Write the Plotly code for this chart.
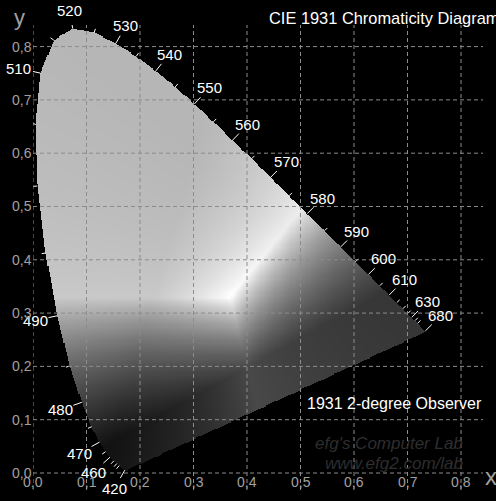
import numpy as np
import plotly.graph_objects as go

# ---------------- data ----------------
wavelengths = [380, 385, 390, 395, 400, 405, 410, 415, 420, 425, 430, 435, 440, 445,
               450, 455, 460, 465, 470, 475, 480, 485, 490, 495, 500, 505, 510, 515,
               520, 525, 530, 535, 540, 545, 550, 555, 560, 565, 570, 575, 580, 585,
               590, 595, 600, 605, 610, 615, 620, 625, 630, 635, 640, 645, 650, 655,
               660, 665, 670, 675, 680, 685, 690, 695, 700]
locus_x = [0.1741, 0.1740, 0.1738, 0.1736, 0.1733, 0.1730, 0.1726, 0.1721, 0.1714, 0.1703,
           0.1689, 0.1669, 0.1644, 0.1611, 0.1566, 0.1510, 0.1440, 0.1355, 0.1241, 0.1096,
           0.0913, 0.0687, 0.0454, 0.0235, 0.0082, 0.0039, 0.0139, 0.0389, 0.0743, 0.1142,
           0.1547, 0.1929, 0.2296, 0.2658, 0.3016, 0.3373, 0.3731, 0.4087, 0.4441, 0.4788,
           0.5125, 0.5448, 0.5752, 0.6029, 0.6270, 0.6482, 0.6658, 0.6801, 0.6915, 0.7006,
           0.7079, 0.7140, 0.7190, 0.7230, 0.7260, 0.7283, 0.7300, 0.7311, 0.7320, 0.7327,
           0.7334, 0.7340, 0.7344, 0.7346, 0.7347]
locus_y = [0.0050, 0.0050, 0.0049, 0.0049, 0.0048, 0.0048, 0.0048, 0.0048, 0.0051, 0.0058,
           0.0069, 0.0086, 0.0109, 0.0138, 0.0177, 0.0227, 0.0297, 0.0399, 0.0578, 0.0868,
           0.1327, 0.2007, 0.2950, 0.4127, 0.5384, 0.6548, 0.7502, 0.8120, 0.8338, 0.8262,
           0.8059, 0.7816, 0.7543, 0.7243, 0.6923, 0.6589, 0.6245, 0.5896, 0.5547, 0.5202,
           0.4866, 0.4544, 0.4242, 0.3965, 0.3725, 0.3514, 0.3340, 0.3197, 0.3083, 0.2993,
           0.2920, 0.2859, 0.2809, 0.2770, 0.2740, 0.2717, 0.2700, 0.2689, 0.2680, 0.2673,
           0.2666, 0.2660, 0.2656, 0.2654, 0.2653]
labeled_nm = [420, 460, 470, 480, 490, 510, 520, 530, 540, 550, 560, 570, 580, 590,
              600, 610, 630, 680]
minor_nm = list(range(445, 641, 5))
grid_vals = [0.0, 0.1, 0.2, 0.3, 0.4, 0.5, 0.6, 0.7, 0.8]
grid_labels = ["0,0", "0,1", "0,2", "0,3", "0,4", "0,5", "0,6", "0,7", "0,8"]

title_text = "CIE 1931 Chromaticity Diagram"
observer_text = "1931 2-degree Observer"
watermark_lines = ["efg's Computer Lab", "www.efg2.com/lab"]

# shading model: RGB primaries, neutral point, luminance weights
prim_x = [0.64, 0.30, 0.15]
prim_y = [0.33, 0.60, 0.06]
white_xy = (0.368, 0.330)
lum_w = [0.2126, 0.7152, 0.0722]

X_RANGE = [0.0, 0.8411]
Y_RANGE = [-0.0319, 0.8405]

NARROW = "Liberation Sans Narrow, Arial Narrow, Liberation Sans, Arial, sans-serif"
REG = "Liberation Sans, Arial, sans-serif"

lx = np.array(locus_x)
ly = np.array(locus_y)

# ---------------- shaded gamut (heatmap) ----------------
xs = np.arange(0.0, 0.742, 0.002)
ys = np.arange(0.0, 0.842, 0.002)
GX, GY = np.meshgrid(xs, ys)


def inside(px, py, vx, vy):
    c = np.zeros(px.shape, bool)
    n = len(vx)
    j = n - 1
    for i in range(n):
        dy = vy[j] - vy[i]
        if dy == 0:
            j = i
            continue
        cond = ((vy[i] > py) != (vy[j] > py)) & (px < (vx[j] - vx[i]) * (py - vy[i]) / dy + vx[i])
        c ^= cond
        j = i
    return c


mask = inside(GX, GY, lx, ly)

P = np.array([[prim_x[k] for k in range(3)],
              [prim_y[k] for k in range(3)],
              [1 - prim_x[k] - prim_y[k] for k in range(3)]])
P = P / P[1:2, :]
W = np.array([white_xy[0] / white_xy[1], 1.0, (1 - white_xy[0] - white_xy[1]) / white_xy[1]])
S = np.linalg.solve(P, W)
Minv = np.linalg.inv(P * S)

yy = np.where(GY > 1e-4, GY, 1e-4)
XYZ = np.stack([GX / yy, np.ones_like(GX), (1 - GX - GY) / yy], axis=0)
RGB = np.einsum('ij,jkl->ikl', Minv, XYZ)
RGB = np.clip(RGB, 0, None)
mx = RGB.max(axis=0)
mx = np.where(mx > 0, mx, 1)
RGB = RGB / mx
gray = lum_w[0] * RGB[0] + lum_w[1] * RGB[1] + lum_w[2] * RGB[2]
Z = np.where(mask, np.round(gray, 3), np.nan)

fig = go.Figure()
fig.add_trace(go.Heatmap(x=xs, y=ys, z=Z, zmin=0, zmax=1,
                         colorscale=[[0, "#000000"], [1, "#ffffff"]],
                         showscale=False, hoverinfo="skip"))

# ---------------- wavelength ticks ----------------
idx = {w: i for i, w in enumerate(wavelengths)}


def normal(w):
    i = idx[w]
    i0, i1 = max(i - 1, 0), min(i + 1, len(wavelengths) - 1)
    dx, dy = lx[i1] - lx[i0], ly[i1] - ly[i0]
    n = np.hypot(dx, dy)
    return -dy / n, dx / n


PX_PER_UNIT = 534.0
tx, ty = [], []
for w in sorted(set(minor_nm) | set(labeled_nm)):
    nx, ny = normal(w)
    L = (9.0 if w in labeled_nm else 4.0) / PX_PER_UNIT
    x0, y0 = lx[idx[w]], ly[idx[w]]
    tx += [x0, x0 + nx * L, None]
    ty += [y0, y0 + ny * L, None]
fig.add_trace(go.Scatter(x=tx, y=ty, mode="lines", line=dict(color="white", width=1),
                         hoverinfo="skip", showlegend=False))

annotations = []
for w in labeled_nm:
    nx, ny = normal(w)
    d = 10 + abs(nx) * 11 + abs(ny) * 6
    annotations.append(dict(x=lx[idx[w]], y=ly[idx[w]], xref="x", yref="y", text=str(w),
                            showarrow=False, xanchor="center", yanchor="middle",
                            xshift=nx * d, yshift=ny * d,
                            font=dict(family=NARROW, size=15, color="white")))

# ---------------- axis tick labels ----------------
for v, t in zip(grid_vals, grid_labels):
    annotations.append(dict(x=0, xref="paper", y=v, yref="y", text=t, showarrow=False,
                            xanchor="right", yanchor="middle", xshift=1,
                            font=dict(family=NARROW, size=14, color="#a0a0a0")))
    annotations.append(dict(x=v, xref="x", y=0, yref="y", text=t, showarrow=False,
                            xanchor="center", yanchor="middle", yshift=-9,
                            font=dict(family=NARROW, size=14, color="#a0a0a0")))

annotations += [
    dict(x=-0.029, y=1.017, xref="paper", yref="paper", text="y", showarrow=False,
         xanchor="center", yanchor="middle", font=dict(family=REG, size=22, color="#a0a0a0")),
    dict(x=1.018, y=0.03, xref="paper", yref="paper", text="x", showarrow=False,
         xanchor="center", yanchor="middle", font=dict(family=REG, size=24, color="#a0a0a0")),
    dict(x=0.52, y=1.015, xref="paper", yref="paper", text=title_text, showarrow=False,
         xanchor="left", yanchor="middle", font=dict(family=REG, size=16.4, color="white")),
    dict(x=0.604, y=0.187, xref="paper", yref="paper", text=observer_text, showarrow=False,
         xanchor="left", yanchor="middle", font=dict(family=REG, size=16, color="white")),
    dict(x=0.96, y=0.099, xref="paper", yref="paper", text=watermark_lines[0], showarrow=False,
         xanchor="right", yanchor="middle",
         font=dict(family=REG, size=17, color="#2e2e2e", style="italic")),
    dict(x=0.96, y=0.056, xref="paper", yref="paper", text=watermark_lines[1], showarrow=False,
         xanchor="right", yanchor="middle",
         font=dict(family=REG, size=17, color="#2e2e2e", style="italic")),
]

# ---------------- dashed grid on top ----------------
shapes = []
for v in grid_vals:
    shapes.append(dict(type="line", xref="x", yref="paper", x0=v, x1=v, y0=0, y1=1,
                       line=dict(color="rgb(140,140,140)", width=1, dash="4px,3px"), layer="above"))
    shapes.append(dict(type="line", xref="paper", yref="y", x0=0, x1=1, y0=v, y1=v,
                       line=dict(color="rgb(140,140,140)", width=1, dash="4px,3px"), layer="above"))

fig.update_layout(
    width=496, height=501,
    margin=dict(l=33, r=13, t=25, b=11),
    paper_bgcolor="black", plot_bgcolor="black",
    xaxis=dict(range=X_RANGE, visible=False, fixedrange=True),
    yaxis=dict(range=Y_RANGE, visible=False, fixedrange=True),
    showlegend=False,
    annotations=annotations,
    shapes=shapes,
)

fig.write_html("out.html", config={"displayModeBar": False},
               post_script="document.body.style.margin='0';document.body.style.background='black';")
